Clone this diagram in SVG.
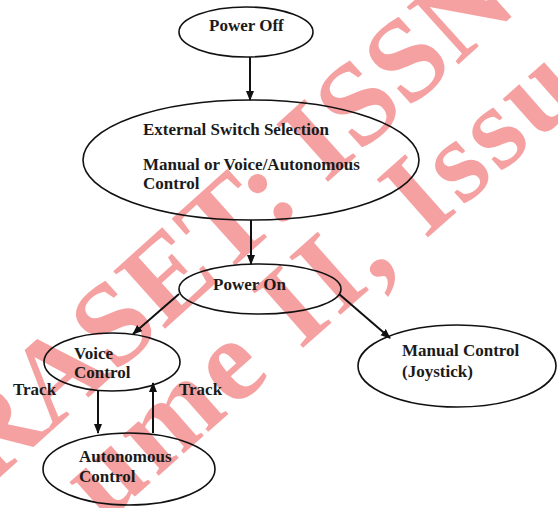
<svg xmlns="http://www.w3.org/2000/svg" width="558" height="508" viewBox="0 0 558 508">
<defs>
<marker id="ah" markerWidth="10" markerHeight="10" refX="9" refY="5" orient="auto" markerUnits="userSpaceOnUse">
<path d="M0,1 L10,5 L0,9 Z" fill="#111"/>
</marker>
<style>
.n{fill:none;stroke:#111;stroke-width:1.6}
.t{font-family:"Liberation Serif","Times New Roman",serif;font-weight:bold;font-size:17px;fill:#1a1a1a}
.e{stroke:#111;stroke-width:2;fill:none;marker-end:url(#ah)}
.w{font-family:"Liberation Serif","Times New Roman",serif;font-weight:bold;font-size:118px;fill:#ee4444;fill-opacity:0.5}
</style>
</defs>
<rect width="558" height="508" fill="#fff"/>
<g id="watermark">
<text class="w" font-size="112" transform="translate(-12,488) rotate(-42)">RASET: ISSN</text>
<text class="w" letter-spacing="4" transform="translate(104,524) rotate(-41.5)">ume II, Issue</text>
</g>
<g id="connectors">
<line class="e" x1="250" y1="57" x2="250" y2="100"/>
<line class="e" x1="251" y1="220" x2="251" y2="264"/>
<line class="e" x1="179" y1="294" x2="133" y2="334"/>
<line class="e" x1="339" y1="294" x2="390" y2="338"/>
<line class="e" x1="98" y1="391" x2="98" y2="433"/>
<line class="e" x1="153" y1="433" x2="153" y2="383"/>
</g>
<g id="power-off">
<ellipse class="n" cx="246" cy="32" rx="67" ry="25"/>
<text class="t" x="209" y="31">Power Off</text>
</g>
<g id="external-switch">
<ellipse class="n" cx="251" cy="160" rx="168" ry="60"/>
<text class="t" x="143" y="135">External Switch Selection</text>
<text class="t" x="143" y="170">Manual or Voice/Autonomous</text>
<text class="t" x="143" y="189">Control</text>
</g>
<g id="power-on">
<ellipse class="n" cx="260" cy="289" rx="81" ry="25"/>
<text class="t" x="213" y="290">Power On</text>
</g>
<g id="voice-control">
<ellipse class="n" cx="112" cy="362" rx="68" ry="29"/>
<text class="t" x="74" y="359">Voice</text>
<text class="t" x="74" y="378">Control</text>
</g>
<g id="manual-control">
<ellipse class="n" cx="457" cy="366" rx="99" ry="41"/>
<text class="t" x="402" y="356">Manual Control</text>
<text class="t" x="402" y="377">(Joystick)</text>
</g>
<g id="autonomous-control">
<ellipse class="n" cx="129" cy="469" rx="86" ry="36"/>
<text class="t" x="79" y="462">Autonomous</text>
<text class="t" x="79" y="482">Control</text>
</g>
<g id="labels">
<text class="t" x="13" y="395">Track</text>
<text class="t" x="179" y="395">Track</text>
</g>
</svg>
